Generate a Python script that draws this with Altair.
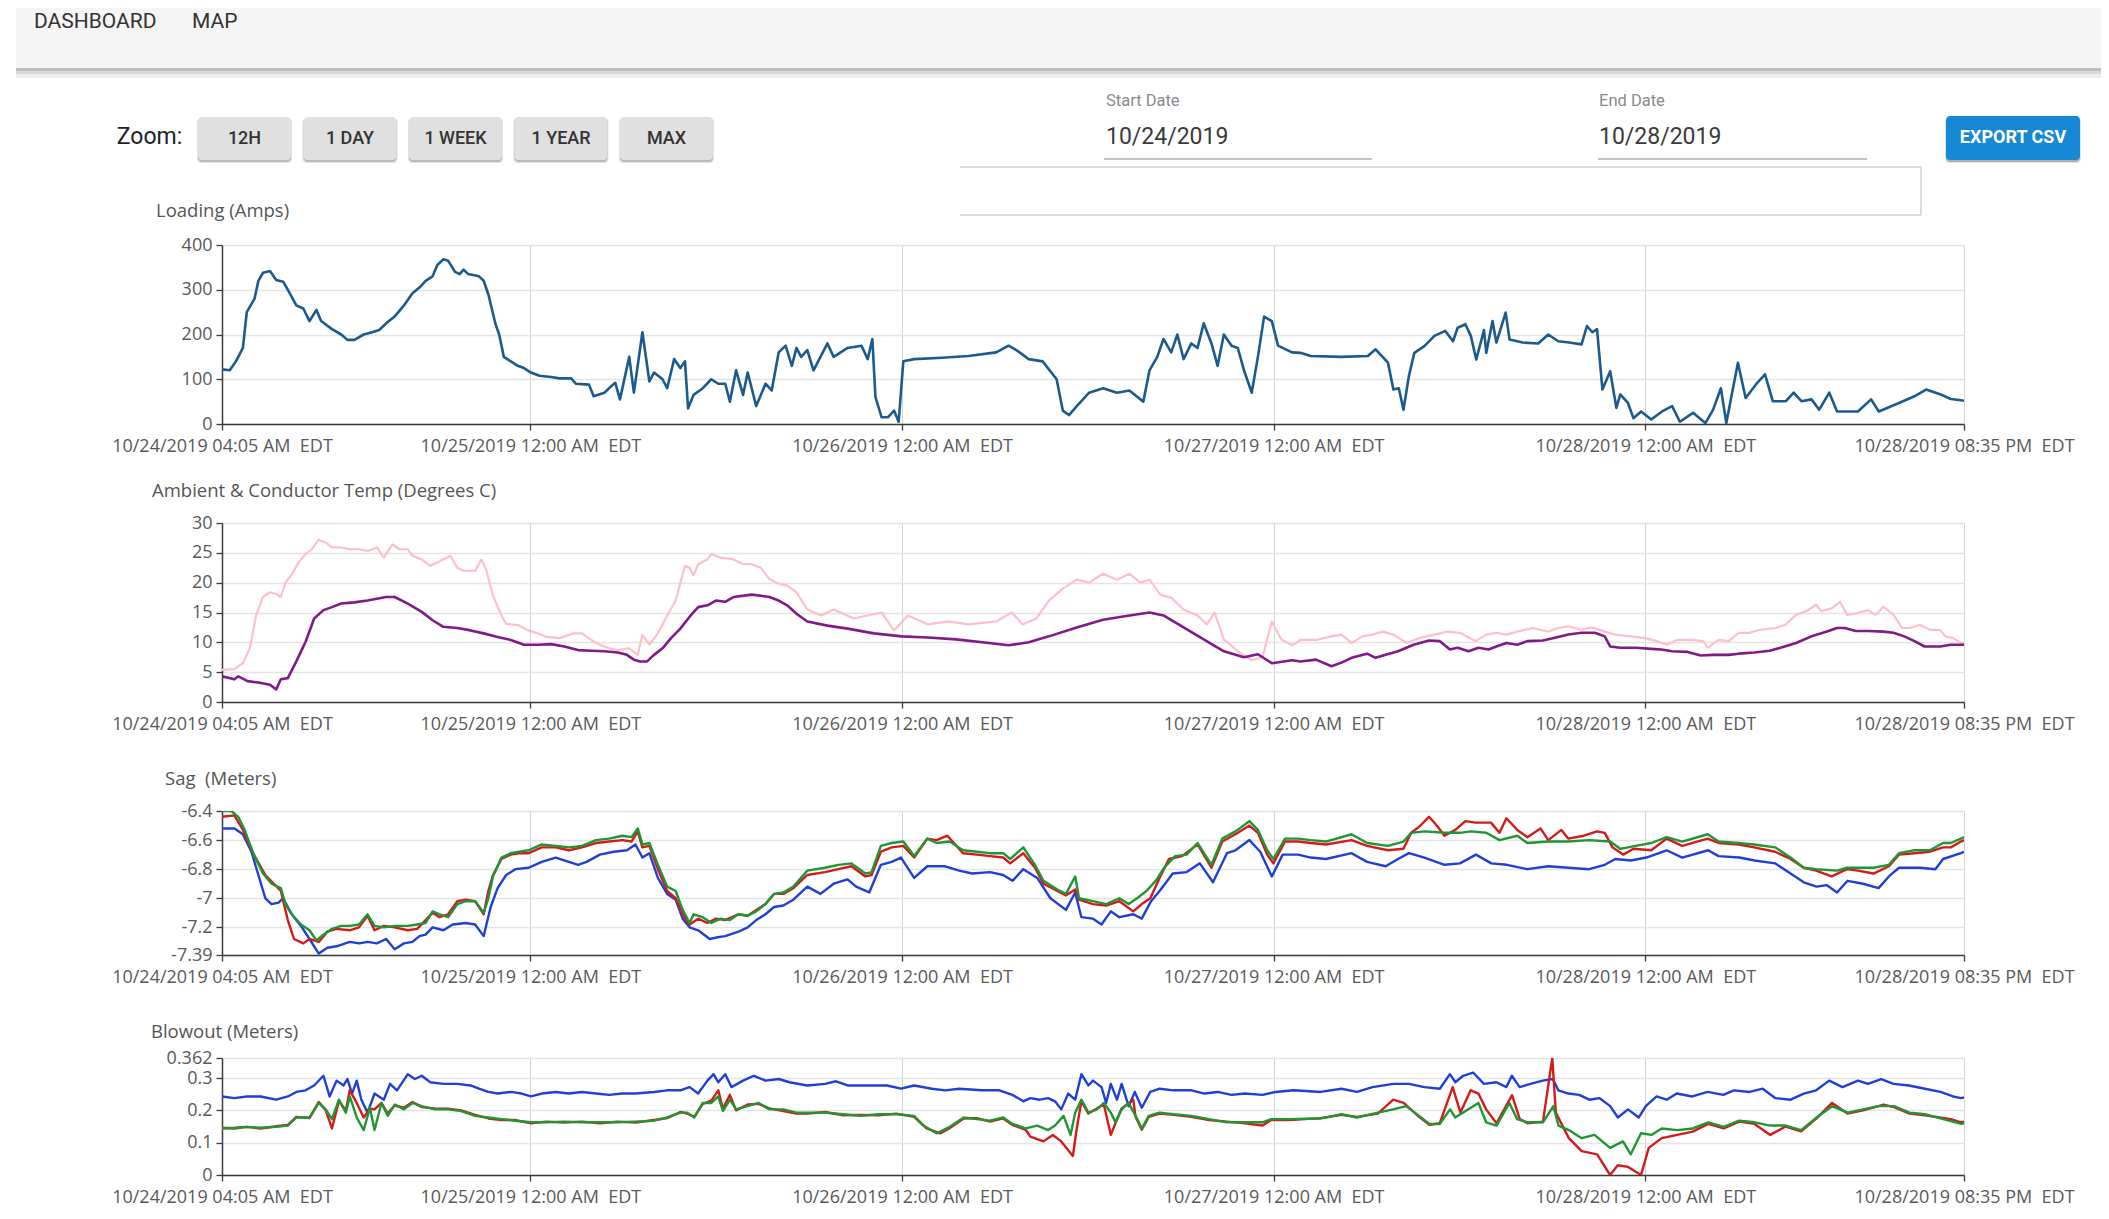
import altair as alt
import pandas as pd

# ---------------- data (hours after 10/24/2019 04:05 AM, value) ----------------
START = pd.Timestamp("2019-10-24 04:05", tz="UTC")
END = pd.Timestamp("2019-10-28 20:35", tz="UTC")
TICK_TIMES = ["2019-10-24 04:05", "2019-10-25 00:00", "2019-10-26 00:00",
              "2019-10-27 00:00", "2019-10-28 00:00", "2019-10-28 20:35"]

LOADING = [(0.0,122),(0.5,120),(0.9,140),(1.35,170),(1.6,250),(2.1,280),(2.35,320),(2.65,338),(3.1,342),(3.5,322),(3.95,318),(4.25,300),(4.8,265),(5.25,258),(5.65,230),(6.1,255),(6.4,230),(7.1,212),(7.7,200),(8.1,188),(8.55,188),(9.15,200),(9.7,205),(10.15,210),(10.6,225),(11.15,240),(11.75,265),(12.3,292),(12.75,305),(13.15,320),(13.6,330),(13.9,355),(14.3,368),(14.6,365),(15.05,340),(15.35,335),(15.6,345),(15.9,335),(16.6,330),(16.9,320),(17.2,290),(17.65,225),(17.9,200),(18.2,150),(18.65,140),(19.1,130),(19.5,125),(19.95,115),(20.5,108),(21.25,105),(21.8,102),(22.55,102),(22.85,90),(23.7,88),(24.0,62),(24.7,70),(25.15,85),(25.4,92),(25.7,55),(26.3,150),(26.6,70),(27.15,205),(27.6,95),(27.9,115),(28.45,100),(28.75,80),(29.2,145),(29.6,125),(29.9,140),(30.1,35),(30.45,65),(31.05,80),(31.6,100),(32.05,90),(32.5,90),(32.8,50),(33.2,120),(33.65,65),(33.95,115),(34.5,40),(35.1,90),(35.5,75),(35.95,160),(36.4,175),(36.8,130),(37.1,170),
           (37.4,150),(37.8,165),(38.2,120),(39.1,180),(39.5,150),(40.4,170),(41.3,175),(41.7,145),(42.0,190),(42.2,60),(42.6,15),(43.0,15),(43.4,30),(43.7,5),(44.0,140),(44.7,145),(46.5,148),(48.2,152),(50.0,160),(50.8,175),(51.3,165),(52.1,145),(53.0,140),(53.9,100),(54.3,30),(54.7,20),(55.2,40),(56.0,70),(56.9,80),(57.8,70),(58.6,75),(59.5,50),(59.9,120),(60.4,150),(60.8,190),(61.3,160),(61.7,200),(62.1,145),(62.6,180),(63.0,170),(63.4,225),(63.9,180),(64.3,130),(64.7,200),(65.2,175),(65.6,170),(66.0,120),(66.5,70),(66.9,150),(67.3,240),(67.8,230),(68.2,175),(69.1,160),
           (69.65,159),(70.3,152),(72.3,150),(74.0,152),(74.5,167),(75.3,137),(75.65,77),(76.0,80),(76.3,32),(76.65,107),(77.0,159),(77.65,174),(78.3,197),(79.0,208),(79.5,185),(79.8,215),(80.3,223),(80.65,197),(81.0,144),(81.5,210),(81.65,159),(82.05,230),(82.3,182),(82.9,249),(83.15,189),(84.0,182),(85.0,180),(85.65,200),(86.3,185),(87.0,182),(87.8,178),(88.15,219),(88.5,205),(88.8,212),(89.15,77),(89.65,118),(90.05,36),(90.3,66),(90.8,47),(91.15,13),(91.65,28),(92.3,10),(93.0,28),(93.65,40),(94.15,5),(95.0,25),(95.8,2),(96.3,32),(96.8,80),(97.15,2),(97.9,137),(98.4,58),(99.15,92),(99.65,111),(100.15,51),(101.0,51),(101.5,70),(102.0,51),(102.65,55),(103.15,32),(103.8,70),(104.3,28),(105.65,28),(106.5,55),(107.0,28),(108.3,47),(109.3,62),(110.05,77),(111.0,66),(111.65,56),(112.3,53),(112.5,52)]

AMBIENT = [(0.0,5.4),(0.8,5.5),(1.35,6.5),(1.8,9.0),(2.2,14.5),(2.65,17.6),(3.1,18.4),(3.5,18.1),(3.8,17.6),(4.1,20.0),(4.5,21.4),(4.95,23.4),(5.4,24.8),(5.8,25.6),(6.25,27.2),(6.7,26.7),(7.1,25.9),(7.7,25.9),(8.25,25.6),(8.85,25.6),(9.4,25.3),(10.0,25.9),(10.45,24.2),(11.0,26.4),(11.45,25.6),(12.0,25.6),(12.3,24.5),(12.9,23.9),(13.45,22.8),(14.05,23.6),(14.75,24.5),(15.2,22.5),(15.6,22.0),(16.35,22.0),(16.75,23.9),(17.05,22.3),(17.5,17.8),(18.05,14.5),(18.35,13.1),(19.1,12.9),(19.8,12.0),(20.4,11.5),(20.95,10.9),(21.8,10.7),(22.7,11.5),(23.25,11.5),(23.85,10.4),(24.4,9.6),(25.0,9.0),(25.55,8.7),(26.3,9.0),(26.85,7.9),(27.15,11.2),(27.6,9.6),(28.15,11.5),(28.75,14.5),(29.3,17.0),(29.6,20.0),(29.9,22.8),(30.2,22.5),(30.45,21.2),(30.75,23.1),(31.35,23.9),(31.6,24.8),(32.2,24.2),(33.05,23.9),(33.65,23.1),(34.2,23.1),(34.8,22.5),(35.35,20.6),(35.95,19.8),(36.5,19.5),(37.1,18.4),
           (37.8,15.5),(38.7,14.5),(39.5,15.5),(40.8,14.0),(41.7,14.5),(42.6,15.0),(43.4,12.0),(44.3,14.5),(45.6,13.0),(46.9,13.5),(48.2,13.0),(50.0,13.5),(51.0,15.0),(51.7,13.0),(52.6,14.0),(53.4,17.0),(54.3,19.0),(55.2,20.5),(56.0,20.0),(56.9,21.5),(57.8,20.5),(58.6,21.5),(59.3,20.0),(59.9,20.5),(60.6,18.0),(61.3,17.5),(62.1,15.5),(63.0,14.5),(63.6,13.0),(64.1,15.0),(64.7,10.5),(65.6,8.5),(66.5,7.0),(67.2,7.5),(67.8,13.5),(68.4,10.5),(69.1,9.5),
           (69.65,10.4),(70.65,10.4),(71.65,11.0),(72.3,11.3),(72.95,9.9),(73.65,11.0),(74.3,11.3),(74.95,11.8),(75.65,11.3),(76.5,9.9),(77.3,10.7),(78.3,11.3),(79.15,11.8),(79.95,11.6),(80.95,10.2),(81.65,11.3),(82.3,11.6),(82.95,11.3),(83.65,11.8),(84.65,12.4),(85.65,11.8),(86.3,12.4),(86.95,12.7),(87.8,12.1),(88.45,12.5),(89.3,11.8),(89.95,11.3),(90.95,11.0),(91.9,10.7),(92.65,10.2),(93.3,9.6),(93.95,10.4),(94.95,10.4),(95.65,10.2),(95.95,9.1),(96.65,10.4),(97.3,10.2),(97.95,11.6),(98.65,11.6),(99.3,12.1),(100.3,12.4),(100.95,12.9),(101.65,14.6),(102.3,15.2),(102.95,16.3),(103.3,15.2),(103.95,15.7),(104.5,16.8),(104.95,14.6),(105.65,14.9),(106.3,15.4),(106.8,14.6),(107.3,16.0),(107.95,14.6),(108.5,12.4),(108.95,12.4),(109.65,12.9),(110.3,12.1),(110.95,12.1),(111.3,11.0),(111.8,10.7),(112.3,9.9),(112.5,9.8)]

CONDUCTOR = [(0.0,4.3),(0.8,3.8),(1.05,4.3),(1.65,3.5),(2.5,3.2),(3.1,2.9),(3.5,2.1),(3.8,3.8),(4.25,4.0),(4.8,6.8),(5.4,10.1),(5.95,14.0),(6.55,15.4),(7.1,15.9),(7.7,16.5),(8.55,16.7),(9.4,17.0),(10.6,17.6),(11.15,17.6),(12.0,16.5),(12.9,15.1),(13.6,13.7),(14.3,12.6),(15.2,12.4),(16.05,12.0),(16.9,11.5),(17.8,10.9),(18.65,10.4),(19.5,9.6),(20.4,9.6),(21.25,9.7),(22.1,9.3),(23.0,8.7),(23.85,8.6),(24.7,8.5),(25.55,8.3),(26.15,7.9),(26.6,7.1),(27.0,6.8),(27.45,6.8),(27.9,7.9),(28.45,9.0),(29.0,10.7),(29.6,12.3),(30.2,14.3),(30.75,15.9),(31.35,16.2),(31.9,17.0),(32.5,16.8),(33.05,17.6),(34.2,18.0),(34.8,17.8),(35.35,17.6),(35.95,17.0),(36.5,16.2),(37.1,14.8),
             (37.8,13.5),(39.1,12.8),(40.4,12.3),(42.1,11.5),(43.9,11.0),(45.6,10.8),(47.4,10.5),(49.1,10.0),(50.8,9.5),(52.1,10.0),(53.4,11.0),(55.2,12.5),(56.9,13.8),(58.6,14.5),(59.9,15.0),(60.8,14.5),(62.1,12.5),(63.4,10.5),(64.7,8.5),(66.0,7.5),(66.9,8.0),(67.8,6.5),(69.1,7.0),
             (69.65,6.8),(70.65,7.1),(71.65,6.0),(72.3,6.6),(72.95,7.4),(73.95,8.1),(74.5,7.4),(75.15,7.9),(75.95,8.5),(76.95,9.6),(77.95,10.3),(78.65,10.2),(79.3,8.8),(79.8,9.1),(80.5,8.5),(81.15,9.1),(81.8,8.8),(82.3,9.3),(82.95,9.9),(83.65,9.6),(84.3,10.2),(85.3,10.3),(85.95,10.7),(86.95,11.3),(87.8,11.6),(88.65,11.6),(89.3,11.0),(89.65,9.3),(90.3,9.1),(91.3,9.1),(92.3,8.9),(92.95,8.8),(93.65,8.5),(94.65,8.4),(95.5,7.8),(96.3,7.9),(97.3,7.9),(97.95,8.1),(98.95,8.3),(99.95,8.6),(100.65,9.1),(101.65,9.9),(102.65,11.0),(103.65,11.8),(104.3,12.4),(104.8,12.4),(105.5,11.9),(106.3,11.9),(107.3,11.8),(107.95,11.6),(108.65,11.0),(109.3,10.2),(109.95,9.3),(110.95,9.3),(111.65,9.6),(112.5,9.6)]

SAG_GREEN = [(0.0,-6.40),(0.6,-6.40),(1.05,-6.44),(1.5,-6.54),(2.05,-6.70),(2.65,-6.83),(3.2,-6.90),(3.8,-6.93),(4.1,-7.04),(4.5,-7.11),(5.1,-7.18),(5.65,-7.22),(6.1,-7.29),(6.55,-7.25),(7.1,-7.21),(7.7,-7.19),(8.25,-7.19),(8.85,-7.18),(9.4,-7.11),(9.85,-7.19),(10.45,-7.20),(11.15,-7.19),(12.0,-7.19),(12.6,-7.18),(13.15,-7.17),(13.6,-7.09),(14.05,-7.11),(14.6,-7.13),(15.2,-7.04),(15.75,-7.02),(16.35,-7.02),(16.9,-7.10),(17.2,-7.00),(17.5,-6.85),(18.05,-6.72),(18.65,-6.69),(19.2,-6.68),(19.8,-6.67),(20.65,-6.63),(21.55,-6.64),(22.4,-6.65),(23.25,-6.64),(24.15,-6.60),(25.0,-6.59),(25.85,-6.57),(26.45,-6.58),(26.85,-6.52),(27.15,-6.63),(27.6,-6.62),(28.15,-6.77),(28.75,-6.92),(29.3,-6.95),(29.75,-7.08),(30.2,-7.17),(30.45,-7.11),(31.05,-7.13),(31.6,-7.17),(32.2,-7.14),(32.8,-7.15),(33.35,-7.11),(33.95,-7.12),(34.5,-7.09),(35.1,-7.04),(35.65,-6.97),(36.25,-6.96),
             (36.9,-6.92),(37.8,-6.81),(38.95,-6.79),(39.8,-6.77),(40.65,-6.76),(41.55,-6.83),(41.95,-6.82),(42.55,-6.64),(43.25,-6.62),(44.0,-6.61),(44.7,-6.71),(45.55,-6.59),(46.15,-6.62),(47.0,-6.61),(47.85,-6.67),(48.75,-6.68),(49.6,-6.69),(50.45,-6.69),(50.9,-6.73),(51.75,-6.65),(52.5,-6.77),(53.05,-6.88),(53.95,-6.94),(54.5,-6.97),(55.1,-6.85),(55.35,-7.00),(56.25,-7.02),(57.1,-7.04),(57.95,-7.00),(58.55,-7.04),(59.1,-7.00),(59.7,-6.95),(60.3,-6.88),(60.85,-6.79),(61.55,-6.71),(62.3,-6.70),(63.0,-6.62),(63.9,-6.77),(64.6,-6.59),(65.45,-6.54),(66.35,-6.47),(66.9,-6.53),(67.5,-6.67),(67.9,-6.73),(68.65,-6.59),(69.5,-6.59),
             (70.3,-6.60),(71.3,-6.61),(72.95,-6.56),(73.95,-6.62),(75.3,-6.64),(76.3,-6.61),(76.8,-6.55),(77.65,-6.54),(78.95,-6.55),(79.95,-6.55),(80.65,-6.54),(81.65,-6.55),(82.5,-6.60),(83.65,-6.57),(84.3,-6.62),(85.65,-6.61),(86.95,-6.61),(88.3,-6.60),(89.65,-6.61),(90.3,-6.66),(91.3,-6.64),(92.3,-6.62),(93.3,-6.58),(94.3,-6.61),(95.95,-6.56),(96.65,-6.61),(97.95,-6.62),(98.95,-6.63),(100.3,-6.65),(101.3,-6.72),(102.15,-6.79),(102.95,-6.80),(104.3,-6.81),(104.95,-6.79),(105.65,-6.79),(106.65,-6.79),(107.65,-6.77),(108.3,-6.69),(109.3,-6.67),(110.3,-6.67),(111.15,-6.62),(111.65,-6.62),(112.3,-6.59),(112.5,-6.58)]

SAG_RED = [(0.0,-6.44),(0.8,-6.43),(1.35,-6.53),(2.05,-6.70),(2.8,-6.84),(3.35,-6.90),(3.8,-6.95),(4.25,-7.15),(4.65,-7.28),(5.25,-7.31),(5.65,-7.28),(6.25,-7.30),(6.8,-7.23),(7.4,-7.21),(8.25,-7.22),(8.85,-7.20),(9.4,-7.12),(9.85,-7.22),(10.45,-7.19),(11.15,-7.20),(12.0,-7.22),(12.6,-7.21),(13.15,-7.15),(13.6,-7.10),(14.05,-7.13),(14.6,-7.11),(15.2,-7.02),(15.75,-7.01),(16.35,-7.02),(16.9,-7.11),(17.2,-6.95),(17.5,-6.84),(18.05,-6.73),(18.65,-6.70),(19.2,-6.69),(19.8,-6.69),(20.65,-6.65),(21.55,-6.65),(22.4,-6.67),(23.25,-6.65),(24.15,-6.62),(25.0,-6.61),(25.85,-6.60),(26.45,-6.61),(26.85,-6.54),(27.15,-6.65),(27.6,-6.64),(28.15,-6.80),(28.75,-6.95),(29.3,-7.00),(29.75,-7.11),(30.2,-7.18),(30.75,-7.14),(31.35,-7.17),(31.9,-7.14),(32.5,-7.15),(33.35,-7.11),(33.95,-7.12),(34.5,-7.08),(35.1,-7.04),(35.65,-6.97),(36.25,-6.97),
           (36.9,-6.93),(37.8,-6.84),(38.95,-6.82),(39.8,-6.80),(40.65,-6.78),(41.55,-6.85),(41.95,-6.84),(42.55,-6.68),(43.25,-6.65),(44.0,-6.64),(44.7,-6.72),(45.55,-6.59),(46.15,-6.60),(46.85,-6.57),(47.85,-6.69),(48.75,-6.70),(49.6,-6.71),(50.45,-6.72),(50.9,-6.76),(51.75,-6.69),(52.5,-6.79),(53.05,-6.90),(53.95,-6.95),(54.5,-6.98),(55.1,-6.94),(55.35,-7.01),(56.25,-7.04),(57.1,-7.05),(57.95,-7.02),(58.85,-7.09),(59.4,-7.04),(59.95,-7.00),(60.55,-6.86),(61.15,-6.73),(62.0,-6.71),(63.0,-6.63),(63.9,-6.79),(64.6,-6.61),(65.45,-6.56),(66.35,-6.50),(66.9,-6.55),(67.5,-6.70),(67.9,-6.76),(68.65,-6.61),(69.5,-6.61),
           (70.3,-6.62),(71.3,-6.63),(72.95,-6.60),(73.95,-6.64),(75.3,-6.67),(76.3,-6.66),(76.8,-6.55),(77.3,-6.51),(77.95,-6.44),(78.45,-6.50),(78.95,-6.57),(79.65,-6.53),(80.3,-6.47),(80.95,-6.48),(81.95,-6.48),(82.5,-6.55),(82.95,-6.45),(83.65,-6.53),(84.3,-6.58),(85.15,-6.52),(85.65,-6.60),(86.5,-6.53),(86.95,-6.59),(87.95,-6.57),(88.8,-6.54),(89.3,-6.55),(89.8,-6.65),(90.5,-6.70),(91.15,-6.66),(92.3,-6.67),(93.3,-6.59),(94.3,-6.64),(95.95,-6.59),(96.65,-6.62),(97.95,-6.63),(98.95,-6.65),(100.3,-6.68),(101.3,-6.73),(102.15,-6.79),(102.95,-6.81),(103.95,-6.85),(104.95,-6.80),(105.65,-6.81),(106.65,-6.83),(107.65,-6.78),(108.3,-6.70),(109.3,-6.69),(110.3,-6.68),(111.15,-6.65),(111.65,-6.65),(112.3,-6.61),(112.5,-6.60)]

SAG_BLUE = [(0.0,-6.52),(0.8,-6.52),(1.35,-6.56),(1.9,-6.68),(2.35,-6.84),(2.8,-7.00),(3.2,-7.04),(3.65,-7.03),(3.95,-7.00),(4.5,-7.11),(5.1,-7.19),(5.65,-7.28),(6.25,-7.38),(6.8,-7.34),(7.4,-7.33),(8.25,-7.30),(8.85,-7.31),(9.4,-7.30),(10.0,-7.31),(10.6,-7.28),(11.15,-7.35),(11.75,-7.31),(12.3,-7.30),(12.75,-7.26),(13.15,-7.25),(13.6,-7.20),(14.3,-7.22),(14.9,-7.18),(15.75,-7.17),(16.35,-7.18),(16.9,-7.26),(17.35,-7.06),(17.8,-6.93),(18.35,-6.84),(18.95,-6.80),(19.8,-6.79),(20.65,-6.75),(21.55,-6.72),(22.4,-6.75),(23.0,-6.77),(23.55,-6.75),(24.4,-6.70),(25.3,-6.68),(26.15,-6.67),(26.7,-6.63),(27.15,-6.72),(27.6,-6.69),(28.15,-6.86),(28.75,-6.97),(29.3,-7.01),(29.75,-7.14),(30.2,-7.20),(30.75,-7.22),(31.5,-7.28),(31.9,-7.27),(32.5,-7.26),(33.35,-7.23),(33.95,-7.20),(34.5,-7.15),(35.1,-7.11),(35.65,-7.06),(36.25,-7.05),
            (36.9,-7.01),(37.8,-6.92),(38.65,-6.97),(39.5,-6.90),(40.4,-6.87),(40.95,-6.92),(41.8,-6.96),(42.55,-6.77),(43.25,-6.75),(43.85,-6.72),(44.7,-6.86),(45.55,-6.78),(46.7,-6.78),(47.6,-6.81),(48.45,-6.83),(49.6,-6.82),(50.45,-6.84),(51.05,-6.88),(51.75,-6.80),(52.65,-6.86),(53.5,-7.00),(54.5,-7.08),(55.1,-6.96),(55.5,-7.13),(56.25,-7.14),(56.8,-7.18),(57.4,-7.09),(57.95,-7.13),(58.85,-7.11),(59.4,-7.14),(60.0,-7.02),(60.55,-6.95),(61.4,-6.83),(62.3,-6.82),(63.15,-6.76),(64.0,-6.89),(64.9,-6.69),(65.45,-6.67),(66.35,-6.60),(67.05,-6.68),(67.8,-6.85),(68.5,-6.70),(69.5,-6.70),
            (70.3,-6.72),(71.3,-6.73),(72.95,-6.69),(73.95,-6.75),(75.15,-6.78),(75.95,-6.73),(76.65,-6.69),(77.65,-6.72),(78.95,-6.77),(79.95,-6.76),(80.98,-6.70),(81.98,-6.76),(82.98,-6.77),(84.3,-6.80),(85.65,-6.78),(86.95,-6.79),(88.3,-6.80),(89.3,-6.77),(89.98,-6.73),(90.98,-6.74),(91.98,-6.72),(93.3,-6.67),(94.3,-6.72),(95.98,-6.67),(96.65,-6.71),(97.98,-6.72),(98.98,-6.74),(100.3,-6.76),(101.3,-6.83),(102.15,-6.89),(102.98,-6.92),(103.65,-6.91),(104.3,-6.96),(104.98,-6.88),(105.98,-6.90),(106.98,-6.93),(107.65,-6.85),(108.3,-6.79),(109.65,-6.79),(110.65,-6.80),(111.15,-6.73),(112.3,-6.69),(112.5,-6.68)]

BLOW_BLUE = [(0.0,0.243),(0.8,0.238),(1.6,0.243),(2.5,0.243),(3.5,0.233),(4.25,0.243),(4.8,0.257),(5.4,0.262),(5.95,0.277),(6.55,0.307),(6.95,0.243),(7.4,0.292),(7.85,0.277),(8.1,0.297),(8.4,0.252),(8.7,0.292),(9.0,0.233),(9.4,0.193),(9.85,0.252),(10.45,0.233),(10.85,0.282),(11.3,0.262),(12.0,0.312),(12.45,0.297),(12.9,0.307),(13.45,0.287),(14.3,0.282),(15.2,0.282),(16.05,0.277),(16.6,0.267),(17.2,0.257),(17.8,0.252),(18.65,0.257),(19.35,0.252),(19.95,0.243),(20.65,0.252),(21.55,0.257),(22.4,0.252),(23.25,0.257),(24.15,0.252),(25.0,0.248),(25.85,0.252),(26.7,0.252),(27.9,0.257),(28.75,0.262),(29.6,0.262),(30.2,0.272),(30.75,0.252),(31.35,0.292),(31.75,0.312),(32.05,0.287),(32.5,0.312),(32.9,0.272),(33.65,0.292),(34.35,0.307),(35.1,0.292),(35.95,0.297),(36.65,0.287),
             (37.8,0.277),(38.95,0.282),(39.65,0.290),(40.4,0.277),(41.8,0.277),(42.95,0.277),(43.85,0.267),(44.7,0.277),(45.85,0.267),(46.7,0.262),(47.6,0.267),(49.05,0.262),(50.2,0.262),(51.05,0.248),(51.75,0.228),(52.2,0.238),(52.8,0.233),(53.35,0.238),(53.8,0.228),(54.2,0.203),(54.65,0.252),(55.1,0.233),(55.5,0.312),(55.95,0.277),(56.25,0.292),(56.8,0.272),(57.1,0.223),(57.4,0.282),(57.8,0.233),(58.1,0.282),(58.55,0.213),(58.95,0.257),(59.4,0.208),(59.95,0.257),(60.55,0.267),(61.45,0.262),(62.6,0.262),(63.45,0.252),(64.3,0.257),(65.2,0.248),(66.05,0.252),(67.2,0.248),(68.05,0.257),(69.2,0.262),
             (70.95,0.257),(72.3,0.267),(73.3,0.257),(74.3,0.272),(75.65,0.282),(76.65,0.282),(77.65,0.272),(78.65,0.267),(79.3,0.312),(79.65,0.287),(80.15,0.307),(80.8,0.317),(81.5,0.282),(82.3,0.287),(82.95,0.272),(83.3,0.307),(83.8,0.272),(84.5,0.282),(85.3,0.292),(85.95,0.297),(86.3,0.262),(86.95,0.252),(87.65,0.248),(88.3,0.233),(88.95,0.238),(89.65,0.213),(90.15,0.178),(90.8,0.203),(91.5,0.178),(91.95,0.213),(92.65,0.243),(93.3,0.233),(93.95,0.252),(94.95,0.243),(95.95,0.257),(96.95,0.248),(97.65,0.262),(98.65,0.257),(99.5,0.267),(100.3,0.238),(101.3,0.233),(102.15,0.252),(102.95,0.262),(103.8,0.292),(104.65,0.272),(105.65,0.292),(106.3,0.282),(107.15,0.297),(107.95,0.282),(108.95,0.277),(109.98,0.267),(110.98,0.257),(111.8,0.243),(112.3,0.238),(112.5,0.240)]

BLOW_GREEN = [(0.0,0.144),(0.8,0.146),(1.6,0.149),(2.5,0.146),(3.5,0.149),(4.25,0.153),(4.8,0.178),(5.65,0.178),(6.25,0.223),(6.7,0.203),(7.1,0.173),(7.55,0.233),(8.0,0.193),(8.25,0.243),(8.7,0.178),(9.15,0.139),(9.55,0.208),(9.85,0.139),(10.3,0.223),(10.7,0.183),(11.15,0.218),(11.75,0.203),(12.3,0.223),(12.9,0.213),(13.75,0.203),(14.6,0.203),(15.45,0.198),(16.35,0.183),(17.2,0.178),(18.05,0.173),(18.95,0.168),(19.95,0.163),(20.95,0.163),(22.1,0.165),(23.25,0.163),(24.4,0.163),(25.55,0.163),(26.7,0.165),(27.9,0.168),(28.75,0.178),(29.6,0.193),(30.05,0.193),(30.5,0.178),(31.05,0.223),(31.6,0.223),(32.05,0.243),(32.35,0.198),(32.8,0.233),(33.2,0.203),(33.95,0.213),(34.65,0.223),(35.35,0.203),(36.25,0.203),(37.1,0.193),
              (37.8,0.193),(38.95,0.193),(40.1,0.188),(41.25,0.183),(42.4,0.188),(43.55,0.188),(44.7,0.183),(45.3,0.153),(46.15,0.129),(47.0,0.149),(47.9,0.178),(48.75,0.173),(49.6,0.168),(50.45,0.178),(51.05,0.158),(51.9,0.144),(52.65,0.153),(53.35,0.139),(53.8,0.153),(54.35,0.183),(54.8,0.124),(55.1,0.193),(55.5,0.233),(55.95,0.193),(56.5,0.203),(56.95,0.223),(57.4,0.193),(57.7,0.163),(58.1,0.203),(58.55,0.223),(59.0,0.183),(59.4,0.144),(59.85,0.183),(60.55,0.193),(61.45,0.188),(62.6,0.183),(63.75,0.173),(64.9,0.163),(66.05,0.163),(67.2,0.163),(67.75,0.173),(68.9,0.173),
              (70.97,0.175),(72.3,0.188),(73.3,0.178),(74.64,0.193),(75.64,0.203),(76.47,0.213),(77.31,0.183),(77.98,0.158),(78.64,0.158),(79.31,0.203),(79.64,0.178),(80.31,0.198),(81.14,0.223),(81.64,0.163),(82.31,0.153),(83.14,0.223),(83.64,0.173),(84.31,0.163),(85.31,0.163),(85.98,0.213),(86.31,0.153),(86.98,0.139),(87.81,0.114),(88.64,0.124),(89.64,0.084),(90.48,0.104),(90.98,0.064),(91.64,0.129),(92.31,0.124),(92.98,0.144),(93.98,0.139),(94.98,0.144),(95.98,0.163),(96.98,0.149),(97.98,0.168),(98.98,0.163),(99.98,0.153),(100.98,0.153),(101.98,0.139),(102.98,0.178),(103.98,0.213),(104.98,0.193),(105.98,0.203),(106.98,0.213),(107.98,0.213),(108.98,0.193),(109.98,0.188),(111.15,0.173),(112.32,0.158),(112.5,0.160)]

BLOW_RED = [(0.0,0.146),(0.8,0.144),(1.6,0.149),(2.5,0.144),(3.5,0.151),(4.25,0.155),(4.8,0.180),(5.65,0.176),(6.25,0.226),(6.7,0.200),(7.1,0.144),(7.55,0.228),(8.0,0.200),(8.25,0.262),(8.7,0.223),(9.15,0.178),(9.55,0.205),(9.85,0.203),(10.3,0.223),(10.7,0.190),(11.15,0.215),(11.75,0.208),(12.3,0.226),(12.9,0.210),(13.75,0.206),(14.6,0.205),(15.45,0.200),(16.35,0.186),(17.2,0.175),(18.05,0.170),(18.95,0.170),(19.95,0.160),(20.95,0.165),(22.1,0.162),(23.25,0.165),(24.4,0.160),(25.55,0.165),(26.7,0.162),(27.9,0.170),(28.75,0.176),(29.6,0.195),(30.05,0.190),(30.5,0.180),(31.05,0.220),(31.6,0.230),(32.05,0.262),(32.35,0.205),(32.8,0.248),(33.2,0.200),(33.95,0.218),(34.65,0.220),(35.35,0.206),(36.25,0.198),(37.1,0.190),
            (37.8,0.190),(38.95,0.195),(40.1,0.185),(41.25,0.186),(42.4,0.185),(43.55,0.190),(44.7,0.180),(45.5,0.144),(46.4,0.129),(47.0,0.145),(47.9,0.175),(48.75,0.176),(49.6,0.165),(50.45,0.175),(51.05,0.155),(51.9,0.140),(52.2,0.119),(53.05,0.104),(53.65,0.124),(54.2,0.104),(54.95,0.059),(55.2,0.144),(55.5,0.228),(55.95,0.190),(56.5,0.206),(56.95,0.218),(57.4,0.124),(57.7,0.160),(58.1,0.206),(58.85,0.233),(59.0,0.180),(59.4,0.140),(59.85,0.180),(60.55,0.190),(61.45,0.186),(62.6,0.180),(63.75,0.170),(64.9,0.165),(66.05,0.160),(67.2,0.153),(67.75,0.170),(68.9,0.170),
            (70.97,0.176),(72.3,0.186),(73.3,0.180),(74.64,0.190),(75.64,0.233),(76.31,0.223),(77.31,0.180),(77.98,0.155),(78.64,0.160),(79.48,0.272),(79.98,0.193),(80.64,0.262),(81.14,0.252),(81.64,0.203),(82.31,0.160),(83.31,0.247),(83.81,0.173),(84.31,0.160),(85.31,0.165),(85.91,0.362),(86.14,0.193),(86.98,0.114),(87.81,0.074),(88.81,0.064),(89.64,0.000),(90.14,0.030),(90.81,0.025),(91.64,0.000),(92.14,0.084),(92.98,0.114),(93.98,0.124),(94.98,0.134),(95.98,0.158),(96.98,0.144),(97.98,0.165),(98.98,0.158),(99.98,0.124),(100.98,0.150),(101.98,0.135),(102.98,0.175),(103.98,0.223),(104.98,0.190),(105.98,0.200),(107.31,0.218),(107.98,0.210),(108.98,0.190),(109.98,0.185),(111.65,0.173),(112.32,0.163),(112.5,0.165)]

Y_LOAD = [0, 100, 200, 300, 400]
Y_TEMP = [0, 5, 10, 15, 20, 25, 30]
Y_SAG = [-7.39, -7.2, -7, -6.8, -6.6, -6.4]
Y_BLOW = [0, 0.1, 0.2, 0.3, 0.362]
BUTTONS = ["12H", "1 DAY", "1 WEEK", "1 YEAR", "MAX"]

# ---------------- helpers ----------------
def ms(ts):
    return int(ts.value // 10**6)

START_MS, END_MS = ms(START), ms(END)
XTICKS = [ms(pd.Timestamp(s, tz="UTC")) for s in TICK_TIMES]


def to_df(series):
    return pd.DataFrame({"t": [START_MS + int(round(h * 3600000)) for h, _ in series],
                         "v": [v for _, v in series]})


ONE = alt.Data(values=[{"k": 0}])
W = 1742


def txt(s, x, y, size, color, font="Roboto", weight="normal", align="left"):
    return alt.Chart(ONE).mark_text(text=s, font=font, fontSize=size, color=color,
                                    fontWeight=weight, align=align, baseline="middle").encode(
        x=alt.value(x), y=alt.value(y))


def box(x, x2, y, y2, color, radius=0, opacity=1.0):
    return alt.Chart(ONE).mark_rect(color=color, cornerRadius=radius, opacity=opacity).encode(
        x=alt.value(x), x2=alt.value(x2), y=alt.value(y), y2=alt.value(y2))


def hline(x, x2, y, color, w):
    return alt.Chart(ONE).mark_rule(color=color, strokeWidth=w).encode(
        x=alt.value(x), x2=alt.value(x2), y=alt.value(y))


def vline(x, y, y2, color, w):
    return alt.Chart(ONE).mark_rule(color=color, strokeWidth=w).encode(
        x=alt.value(x), y=alt.value(y), y2=alt.value(y2))


LABEL_EXPR = "utcFormat(datum.value, '%m/%d/%Y %I:%M %p') + '\u00a0 EDT'"


def X(pad):
    return alt.X("t:T", scale=alt.Scale(type="utc", domain=[START_MS, END_MS]),
                 axis=alt.Axis(values=XTICKS, labelExpr=LABEL_EXPR, title=None, grid=True,
                               gridColor="#d4d4d4", gridWidth=1, tickSize=6, labelPadding=pad,
                               labelFlush=False, labelOverlap=False, labelBound=False,
                               labelLimit=0))


def Y(domain, values):
    return alt.Y("v:Q", scale=alt.Scale(domain=domain, nice=False, zero=False),
                 axis=alt.Axis(values=values, labelExpr="'' + datum.value", title=None,
                               grid=True, gridColor="#e4e4e4", gridWidth=1.5,
                               tickSize=6, labelPadding=4))


def line(series, color, width, x, y):
    return alt.Chart(to_df(series)).mark_line(color=color, strokeWidth=width, clip=True,
                                              strokeJoin="round").encode(x=x, y=y)


def panel(height, top, bottom, title, tx, ty, lines, extra=()):
    frame = box(-214, 1879, top, bottom, "#ffffff", opacity=0)
    ttl = txt(title, tx, ty, 18.5, "#555555", font="Open Sans")
    return alt.layer(frame, *extra, *lines, ttl).properties(width=W, height=height)


# ---------------- header (drawn relative to the first plot's origin) ----------------
header = [
    box(-206, 1879, -237, -177, "#f5f5f5"),
    box(-206, 1879, -177, -174, "#bdbdbd"),
    box(-206, 1879, -174, -171, "#d9d9d9"),
    box(-206, 1879, -171, -167, "#eeeeee"),
    txt("DASHBOARD", -188, -223, 21, "#333333"),
    txt("MAP", -30, -223, 21, "#333333"),
    txt("Zoom:", -72.5, -108, 23, "#222222", align="center"),
]
for i, lab in enumerate(BUTTONS):
    x0 = -24 + i * 105.5
    x1 = x0 + 93
    header += [
        box(x0 - 1, x1 + 1, -127, -82, "#cfcfcf", radius=4, opacity=0.6),
        box(x0, x1, -126, -83, "#a8a8a8", radius=4, opacity=0.7),
        box(x0, x1, -128, -85, "#e0e0e0", radius=4),
        txt(lab, (x0 + x1) / 2, -106, 18, "#333333", weight=500, align="center"),
    ]
header += [
    txt("Start Date", 884, -144, 16.5, "#8a8a8a"),
    txt("10/24/2019", 884, -108, 23, "#3a3a3a"),
    hline(882, 1150, -86, "#c2c2c2", 2),
    txt("End Date", 1377, -144, 16.5, "#8a8a8a"),
    txt("10/28/2019", 1377, -108, 23, "#3a3a3a"),
    hline(1376, 1645, -86, "#c2c2c2", 2),
    hline(738, 1699, -78, "#cfcfcf", 1.5),
    hline(738, 1699, -30, "#cfcfcf", 1.5),
    vline(1699, -78, -30, "#cfcfcf", 1.5),
    box(1723, 1859, -127, -82, "#cfcfcf", radius=4, opacity=0.6),
    box(1724, 1858, -126, -83, "#8a8a8a", radius=4, opacity=0.6),
    box(1724, 1858, -129, -85, "#1688d6", radius=4),
    txt("EXPORT CSV", 1791, -107, 18, "#ffffff", weight="bold", align="center"),
]

yl = Y([0, 400], Y_LOAD)
yt = Y([0, 30], Y_TEMP)
ys = Y([-7.39, -6.4], Y_SAG)
yb = Y([0, 0.362], Y_BLOW)
xa = X(7)

p1 = panel(179, -237, 225, "Loading (Amps)", -66, -34,
           [line(LOADING, "#1c5a8e", 2.6, xa, yl)], extra=header)
p2 = panel(179, -53, 229, "Ambient & Conductor Temp (Degrees C)", -70, -32,
           [line(AMBIENT, "#ffbfca", 2.2, xa, yt), line(CONDUCTOR, "#7f1a88", 2.6, xa, yt)])
p3 = panel(144, -59, 199, "Sag\u00a0 (Meters)", -57, -32,
           [line(SAG_BLUE, "#1f3fd6", 2.4, xa, ys), line(SAG_RED, "#d41a1a", 2.4, xa, ys),
            line(SAG_GREEN, "#1f9534", 2.4, xa, ys)])
p4 = panel(117, -48, 148, "Blowout (Meters)", -71, -26,
           [line(BLOW_BLUE, "#1f3fd6", 2.4, xa, yb), line(BLOW_RED, "#d41a1a", 2.4, xa, yb),
            line(BLOW_GREEN, "#1f9534", 2.4, xa, yb)])

chart = alt.vconcat(p1, p2, p3, p4, spacing=0, padding=0).configure_view(
    strokeWidth=0).configure_axis(
    labelFont="Open Sans", labelFontSize=18, labelColor="#595959",
    domainColor="#3a3a3a", tickColor="#3a3a3a", domainWidth=1.5, tickWidth=1.3)

chart.save("out.html", embed_options={"renderer": "svg", "actions": False})
